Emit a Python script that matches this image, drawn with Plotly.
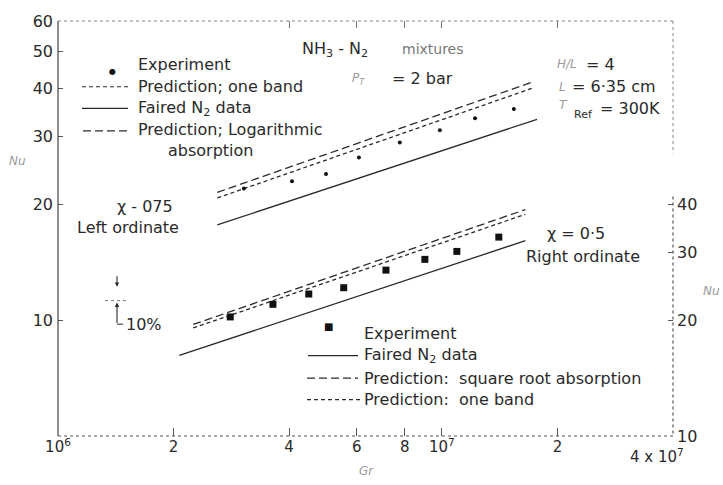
import plotly.graph_objects as go

# ---------------- data ----------------
# chi = 0.75, left ordinate (Nu)
upper_exp_gr = [3.05e6, 4.07e6, 4.99e6, 6.08e6, 7.77e6, 9.88e6, 1.22e7, 1.54e7]
upper_exp_nu = [22.0, 23.0, 24.0, 26.5, 29.0, 31.2, 33.5, 35.4]
upper_faired_gr = [2.6e6, 1.77e7]
upper_faired_nu = [17.7, 33.3]
upper_pred_gr = [2.6e6, 1.73e7]
upper_log_nu = [21.5, 41.7]
upper_oneband_nu = [20.8, 40.2]

# chi = 0.5, right ordinate (Nu)
lower_exp_gr = [2.81e6, 3.63e6, 4.50e6, 5.55e6, 7.15e6, 9.03e6, 1.094e7, 1.407e7]
lower_exp_nu = [20.4, 22.0, 23.4, 24.3, 27.0, 28.8, 30.2, 32.9]
lower_faired_gr = [2.07e6, 1.65e7]
lower_faired_nu = [16.2, 32.2]
lower_pred_gr = [2.25e6, 1.65e7]
lower_sqrt_nu = [19.5, 38.8]
lower_oneband_nu = [19.1, 37.7]

x_tickvals = [1e6, 2e6, 4e6, 6e6, 8e6, 1e7, 2e7, 4e7]
x_ticktext = ["10<sup>6</sup>", "2", "4", "6", "8", "10<sup>7</sup>", "2", "4 x 10<sup>7</sup>"]
x_top_tickvals = [4e6, 6e6, 8e6, 1e7, 2e7]
yl_tickvals = [10, 20, 30, 40, 50, 60]
yr_tickvals = [10, 20, 30, 40]

# ---------------- layout helpers ----------------
W, H = 723, 485
L, R, T, B = 58, 673, 13, 436
FONT = "DejaVu Sans"
INK = "#2a2a2a"
FAINT = "#9a9a9a"
FS = 16


def px(x):
    return (x - L) / (R - L)


def py(y):
    return (B - y) / (B - T)


fig = go.Figure()

LW = 1.3
fig.add_trace(go.Scatter(x=upper_faired_gr, y=upper_faired_nu, mode="lines",
                         line=dict(color=INK, width=LW), showlegend=False))
fig.add_trace(go.Scatter(x=upper_pred_gr, y=upper_log_nu, mode="lines",
                         line=dict(color=INK, width=LW, dash="8px,4px"), showlegend=False))
fig.add_trace(go.Scatter(x=upper_pred_gr, y=upper_oneband_nu, mode="lines",
                         line=dict(color=INK, width=LW, dash="4px,3px"), showlegend=False))
fig.add_trace(go.Scatter(x=upper_exp_gr, y=upper_exp_nu, mode="markers",
                         marker=dict(color="#111", size=4, symbol="circle"), showlegend=False))

fig.add_trace(go.Scatter(x=lower_faired_gr, y=lower_faired_nu, mode="lines", yaxis="y2",
                         line=dict(color=INK, width=LW), showlegend=False))
fig.add_trace(go.Scatter(x=lower_pred_gr, y=lower_sqrt_nu, mode="lines", yaxis="y2",
                         line=dict(color=INK, width=LW, dash="8px,4px"), showlegend=False))
fig.add_trace(go.Scatter(x=lower_pred_gr, y=lower_oneband_nu, mode="lines", yaxis="y2",
                         line=dict(color=INK, width=LW, dash="4px,3px"), showlegend=False))
fig.add_trace(go.Scatter(x=lower_exp_gr, y=lower_exp_nu, mode="markers", yaxis="y2",
                         marker=dict(color="#111", size=7, symbol="square"), showlegend=False))
# invisible trace so the top tick axis is drawn
fig.add_trace(go.Scatter(x=[x_top_tickvals[0]], y=[yl_tickvals[0]], xaxis="x2", mode="markers",
                         marker=dict(opacity=0), hoverinfo="skip", showlegend=False))

shapes = []


def seg(x0, y0, x1, y1, dash="solid", color=INK, width=1.2):
    shapes.append(dict(type="line", xref="paper", yref="paper",
                       x0=px(x0), y0=py(y0), x1=px(x1), y1=py(y1),
                       line=dict(color=color, width=width, dash=dash)))


# frame
seg(L, T, L, B, color="#444", width=1.2)
seg(L, B, R, B, dash="dot", color="#555", width=1.2)
seg(L, T, R, T, dash="dot", color="#888", width=1)
seg(R, T, R, 148, dash="dot", color="#888", width=1)
seg(R, 192, R, B, dash="dot", color="#555", width=1.2)

# upper legend samples
seg(82, 80, 128, 80, dash="4px,3px")
seg(82, 102, 128, 102)
seg(83, 125, 128, 125, dash="8px,4px")
# lower legend samples
seg(308, 354, 358, 354)
seg(307, 377, 358, 377, dash="8px,4px")
seg(307, 399, 360, 399, dash="4px,3px")

# 10% indicator
seg(105, 298, 127, 298, dash="dot", color="#777", width=1)
seg(117, 322, 123, 322, width=1)

ann = []


def txt(x, y, s, size=FS, color=INK, anchor="left", italic=False):
    ann.append(dict(x=px(x), y=py(y), xref="paper", yref="paper", text=s,
                    showarrow=False, xanchor=anchor, yanchor="middle",
                    font=dict(family=FONT, size=size, color=color,
                              style="italic" if italic else "normal")))


def arrow(xh, yh, xt, yt):
    ann.append(dict(x=px(xh), y=py(yh), ax=xt - xh, ay=yt - yh, xref="paper", yref="paper",
                    axref="pixel", ayref="pixel", text="", showarrow=True,
                    arrowhead=2, arrowsize=0.8, arrowwidth=1.1, arrowcolor=INK))


arrow(117, 284, 117, 272)
arrow(117, 300, 117, 322)
txt(124, 322, "10%")

# upper legend
ann.append(dict(x=px(107), y=py(58), xref="paper", yref="paper", text="●", showarrow=False,
                font=dict(family=FONT, size=8, color="#111")))
txt(136, 57, "Experiment")
txt(136, 80, "Prediction; one band")
txt(136, 102, "Faired N<sub>2</sub> data")
txt(136, 124, "Prediction; Logarithmic")
txt(166, 145, "absorption")

# lower legend
ann.append(dict(x=px(328), y=py(332), xref="paper", yref="paper", text="■", showarrow=False,
                font=dict(family=FONT, size=10, color="#111")))
txt(362, 332, "Experiment")
txt(362, 354, "Faired N<sub>2</sub> data")
txt(362, 377, "Prediction:  square root absorption")
txt(362, 399, "Prediction:  one band")

# annotations in plot
txt(300, 42, "NH<sub>3</sub> - N<sub>2</sub>")
txt(400, 42, "mixtures", color="#777", size=14)
txt(350, 72, "P<sub>T</sub>", color=FAINT, italic=True, size=12)
txt(390, 72, "= 2 bar")
txt(555, 57, "H/L", color=FAINT, italic=True, size=12)
txt(584, 57, "= 4")
txt(557, 80, "L", color=FAINT, italic=True, size=12)
txt(570, 80, "= 6·35 cm")
txt(557, 99, "T", color=FAINT, italic=True, size=12)
txt(572, 108, "Ref", size=11)
txt(598, 102, "= 300K")
txt(115, 202, "χ - 075")
txt(75, 223, "Left ordinate")
txt(545, 230, "χ = 0·5")
txt(524, 253, "Right ordinate")

# last x tick label set slightly left/below so it clears the right "10"
txt(686, 456, x_ticktext[-1], size=15, anchor="right")

txt(17, 156, "Nu", color=FAINT, italic=True, size=12, anchor="center")
txt(711, 288, "Nu", color=FAINT, italic=True, size=12, anchor="center")
txt(366, 472, "Gr", color=FAINT, italic=True, size=12, anchor="center")

fig.update_layout(
    width=W, height=H,
    margin=dict(l=L, r=W - R, t=T, b=H - B, pad=0),
    paper_bgcolor="white", plot_bgcolor="white",
    showlegend=False,
    shapes=shapes, annotations=ann,
    font=dict(family=FONT, size=FS, color=INK),
    xaxis=dict(type="log", range=[6, 7.60206], showgrid=False, zeroline=False,
               showline=False, tickvals=x_tickvals,
               ticktext=x_ticktext[:-1] + [""],
               ticks="inside", ticklen=8, tickcolor="#555", tickwidth=1,
               tickfont=dict(family=FONT, size=15, color=INK)),
    xaxis2=dict(type="log", range=[6, 7.60206], overlaying="x", side="top",
                showgrid=False, zeroline=False, showline=False,
                tickvals=x_top_tickvals, showticklabels=False,
                ticks="inside", ticklen=7, tickcolor="#777", tickwidth=1),
    yaxis=dict(type="log", range=[0.69897, 1.778151], showgrid=False, zeroline=False,
               showline=False, tickvals=yl_tickvals, ticktext=[str(v) for v in yl_tickvals],
               ticks="inside", ticklen=5, tickcolor="#555", tickwidth=1,
               ticklabelstandoff=4,
               tickfont=dict(family=FONT, size=16, color=INK)),
    yaxis2=dict(type="log", range=[1, 2.079181], overlaying="y", side="right",
                showgrid=False, zeroline=False, showline=False,
                tickvals=yr_tickvals, ticktext=[str(v) for v in yr_tickvals],
                ticks="inside", ticklen=5, tickcolor="#555", tickwidth=1,
                ticklabelstandoff=3,
                tickfont=dict(family=FONT, size=16, color=INK)),
)

fig.write_html("out.html")
